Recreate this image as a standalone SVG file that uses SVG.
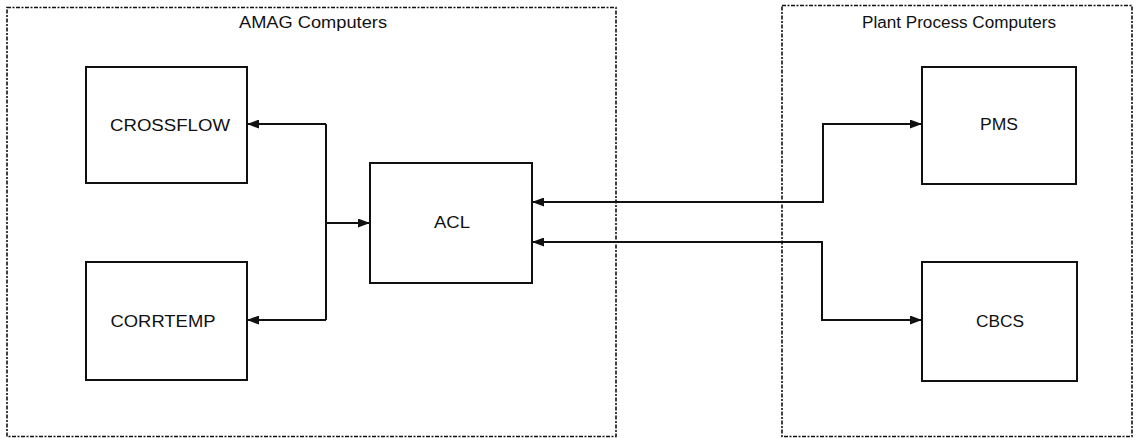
<svg xmlns="http://www.w3.org/2000/svg" width="1139" height="438" viewBox="0 0 1139 438">
<style>
.container{fill:none;stroke:#111;stroke-width:1.6;stroke-dasharray:4 1.5 2 1.5}
.box{fill:#fff;stroke:#111;stroke-width:2}
.lbl{font-family:"Liberation Sans",Arial,sans-serif;font-size:16px;fill:#111;text-anchor:middle}
.title{font-family:"Liberation Sans",Arial,sans-serif;font-size:16px;fill:#111;text-anchor:middle}
.conn{fill:none;stroke:#111;stroke-width:2}
</style>
<defs>
<marker id="arr" viewBox="0 0 12 9" refX="12" refY="4.5" markerWidth="12" markerHeight="9" markerUnits="userSpaceOnUse" orient="auto-start-reverse">
<path d="M0,0 L12,4.5 L0,9 Z" fill="#111"/>
</marker>
</defs>
<rect width="1139" height="438" fill="#fff"/>
<g id="amag">
<rect class="container" x="7" y="7.5" width="609" height="429"/>
<text class="title" x="313" y="28" textLength="148" lengthAdjust="spacingAndGlyphs">AMAG Computers</text>
</g>
<g id="plant">
<rect class="container" x="782" y="5.5" width="350" height="431"/>
<text class="title" x="959" y="28" textLength="194" lengthAdjust="spacingAndGlyphs">Plant Process Computers</text>
</g>
<g id="connectors">
<path class="conn" d="M326,124 V320"/>
<path class="conn" d="M326,124 H247" marker-end="url(#arr)"/>
<path class="conn" d="M326,320 H247" marker-end="url(#arr)"/>
<path class="conn" d="M326,223 H370" marker-end="url(#arr)"/>
<path class="conn" d="M922,124 H823 V202 H532" marker-start="url(#arr)" marker-end="url(#arr)"/>
<path class="conn" d="M922,320 H822 V242 H532" marker-start="url(#arr)" marker-end="url(#arr)"/>
</g>
<g id="crossflow">
<rect class="box" x="86" y="67" width="161" height="116"/>
<text class="lbl" x="170" y="131" textLength="120" lengthAdjust="spacingAndGlyphs">CROSSFLOW</text>
</g>
<g id="corrtemp">
<rect class="box" x="86" y="262" width="161" height="118"/>
<text class="lbl" x="163" y="327" textLength="105" lengthAdjust="spacingAndGlyphs">CORRTEMP</text>
</g>
<g id="acl">
<rect class="box" x="370" y="163" width="162" height="120"/>
<text class="lbl" x="452" y="228" textLength="36" lengthAdjust="spacingAndGlyphs">ACL</text>
</g>
<g id="pms">
<rect class="box" x="922" y="67" width="154" height="117"/>
<text class="lbl" x="999" y="130" textLength="38" lengthAdjust="spacingAndGlyphs">PMS</text>
</g>
<g id="cbcs">
<rect class="box" x="922" y="262" width="155" height="119"/>
<text class="lbl" x="1000" y="327" textLength="48" lengthAdjust="spacingAndGlyphs">CBCS</text>
</g>
</svg>
